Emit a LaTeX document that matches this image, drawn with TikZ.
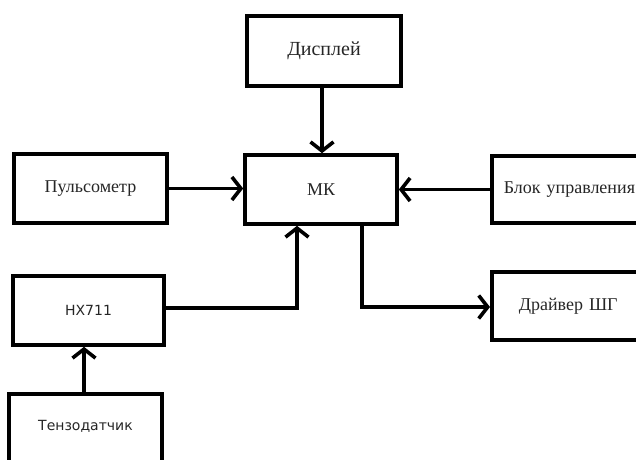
\documentclass[tikz,border=0pt]{standalone}
\usepackage{fontspec}
\setmainfont{Liberation Serif}
\newfontfamily\dvsans{DejaVu Sans}
\usetikzlibrary{arrows.meta}
\tikzset{
  blk/.style={draw=black, line width=3.6pt, rectangle, inner sep=0pt, text=black!85, font=\fontsize{18}{20}\selectfont},
  sblk/.style={blk, font=\dvsans\fontsize{14}{16}\selectfont},
  conn/.style={draw=black, line width=3.6pt},
  arr/.style={conn, -{Straight Barb[length=9pt,width=23pt,line width=3.6pt]}}
}
\begin{document}
\begin{tikzpicture}[x=1pt,y=-1pt]
\useasboundingbox (0,0) rectangle (636,459);
\clip (0,0) rectangle (636,459);
\fill[white] (0,0) rectangle (636,459);
\node[blk, minimum width=154pt, minimum height=70pt, font=\fontsize{20}{22}\selectfont] (disp) at (324,51) {Дисплей};
\node[blk, minimum width=153pt, minimum height=69pt] (puls) at (90.5,188.5) {Пульсометр};
\node[blk, minimum width=152pt, minimum height=69pt] (mk) at (321,189.5) {МК};
\node[blk, anchor=west, minimum height=67pt, text width=190pt, align=left, inner xsep=12pt] (blok) at (490,189.5) {Блок управления};
\node[sblk, minimum width=151pt, minimum height=69pt] (hx) at (88.5,310.5) {HX711};
\node[blk, anchor=west, minimum height=68pt, text width=190pt, align=left, inner xsep=27pt] (drv) at (490,306) {Драйвер ШГ};
\node[sblk, anchor=north, minimum width=153pt, inner ysep=26pt, text depth=60pt] (tenz) at (85.5,392) {Тензодатчик};
\coordinate (dx) at (322,0);
\draw[arr] (disp.south -| dx) -- (mk.north -| dx);
\draw[arr] (puls.east) -- (puls.east -| mk.west);
\draw[arr] (blok.west |- mk.east) -- (mk.east);
\coordinate (hxm) at (297,308);
\draw[arr] (hx.east |- hxm) -- (hxm) -- (hxm |- mk.south);
\coordinate (mko) at (362,307);
\draw[arr] (mko |- mk.south) -- (mko) -- (mko -| drv.west);
\coordinate (tx) at (84,0);
\draw[arr] (tenz.north -| tx) -- (hx.south -| tx);
\end{tikzpicture}
\end{document}
